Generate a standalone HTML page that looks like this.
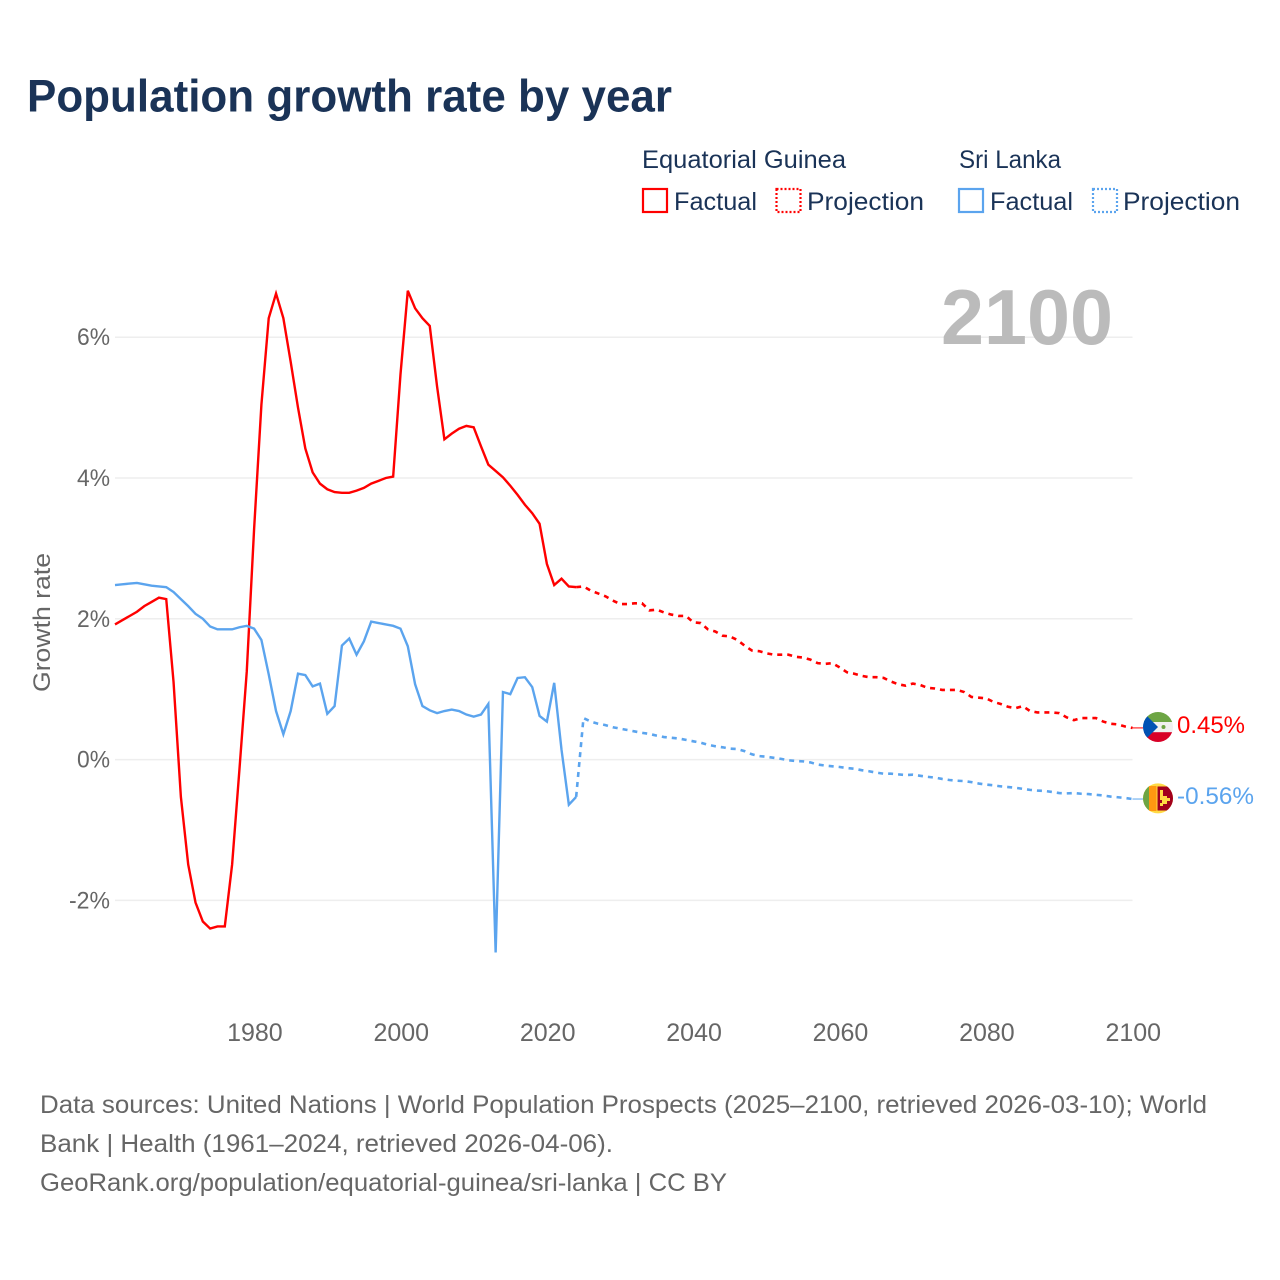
<!DOCTYPE html>
<html lang="en">
<head>
<meta charset="utf-8">
<title>Population growth rate by year</title>
<style>
html,body{margin:0;padding:0;background:#fff;width:1280px;height:1280px;overflow:hidden}
svg{display:block}
text{font-family:"Liberation Sans",sans-serif}
</style>
</head>
<body>
<svg id="chart" width="1280" height="1280" viewBox="0 0 1280 1280" xmlns="http://www.w3.org/2000/svg">
  <defs>
    <clipPath id="clip-gq"><circle cx="1158" cy="727" r="15"/></clipPath>
    <clipPath id="clip-lk"><circle cx="1158" cy="798.4" r="15"/></clipPath>
  </defs>
  <rect x="0" y="0" width="1280" height="1280" fill="#fff"/>
  <text x="27" y="111.5" font-size="45" font-weight="bold" fill="#1a3357" textLength="645" lengthAdjust="spacingAndGlyphs">Population growth rate by year</text>

  <g fill="#1a3357" font-size="25">
    <text x="642" y="168" textLength="204" lengthAdjust="spacingAndGlyphs">Equatorial Guinea</text>
    <text x="959" y="168" textLength="102" lengthAdjust="spacingAndGlyphs">Sri Lanka</text>
    <rect x="643" y="189" width="24" height="23" fill="none" stroke="#ff0000" stroke-width="2.2"/>
    <text x="674" y="210" textLength="83" lengthAdjust="spacingAndGlyphs">Factual</text>
    <rect x="776.5" y="189" width="24" height="23" fill="none" stroke="#ff0000" stroke-width="2.2" stroke-dasharray="2 2"/>
    <text x="807" y="210" textLength="117" lengthAdjust="spacingAndGlyphs">Projection</text>
    <rect x="959" y="189" width="24" height="23" fill="none" stroke="#5ba4ee" stroke-width="2.2"/>
    <text x="990" y="210" textLength="83" lengthAdjust="spacingAndGlyphs">Factual</text>
    <rect x="1093" y="189" width="24" height="23" fill="none" stroke="#5ba4ee" stroke-width="2.2" stroke-dasharray="2 2"/>
    <text x="1123" y="210" textLength="117" lengthAdjust="spacingAndGlyphs">Projection</text>
  </g>

  <g id="grid"></g>
  <g id="yticks"></g>
  <g id="xticks"></g>
  <text transform="translate(50,692) rotate(-90)" font-size="24" fill="#666" textLength="139" lengthAdjust="spacingAndGlyphs">Growth rate</text>
  <text x="941" y="344" font-size="78" font-weight="bold" fill="#bbbbbb" textLength="172" lengthAdjust="spacingAndGlyphs">2100</text>

  <g id="series"></g>

  <g clip-path="url(#clip-gq)">
    <rect x="1143" y="712" width="30" height="30" fill="#f0f0f0"/>
    <rect x="1143" y="712" width="30" height="10" fill="#6da544"/>
    <rect x="1143" y="732.2" width="30" height="10" fill="#d80027"/>
    <polygon points="1143,712 1158,727 1143,742" fill="#0052b4"/>
    <circle cx="1163.5" cy="727" r="2" fill="#6da544"/>
  </g>
  <g clip-path="url(#clip-lk)">
    <rect x="1143" y="783" width="30" height="31" fill="#ffda44"/>
    <rect x="1143" y="783" width="6" height="31" fill="#6da544"/>
    <rect x="1149" y="786" width="7.5" height="25" fill="#ff9811"/>
    <rect x="1157.5" y="786.5" width="16" height="24" fill="#a2001d"/>
    <path d="M1160 790h3v6h4v2h3v3h-3v3h-4v2h-3v-3h2v-3h-2z" fill="#ffda44"/>
  </g>
  <text id="label-gq" x="1177" y="733" font-size="24.5" fill="#ff0000" textLength="68" lengthAdjust="spacingAndGlyphs">0.45%</text>
  <text id="label-lk" x="1177" y="804" font-size="24.5" fill="#5ba4ee" textLength="77" lengthAdjust="spacingAndGlyphs">-0.56%</text>

  <g font-size="25" fill="#666">
    <text x="40" y="1113" textLength="1167" lengthAdjust="spacingAndGlyphs">Data sources: United Nations | World Population Prospects (2025–2100, retrieved 2026-03-10); World</text>
    <text x="40" y="1152" textLength="573" lengthAdjust="spacingAndGlyphs">Bank | Health (1961–2024, retrieved 2026-04-06).</text>
    <text x="40" y="1191" textLength="687" lengthAdjust="spacingAndGlyphs">GeoRank.org/population/equatorial-guinea/sri-lanka | CC BY</text>
  </g>
</svg>
<script>
const factualStartYear = 1961;
const projectionStartYear = 2024;
const xTickYears = [1980, 2000, 2020, 2040, 2060, 2080, 2100];
const yTickValues = [6, 4, 2, 0, -2];
const yTickLabels = ["6%", "4%", "2%", "0%", "-2%"];

const guineaFactual = [1.92,1.98,2.04,2.10,2.18,2.24,2.30,2.28,1.10,-0.53,-1.49,-2.03,-2.30,-2.40,-2.37,-2.37,-1.49,-0.14,1.25,3.27,5.04,6.27,6.62,6.27,5.65,5.00,4.42,4.08,3.92,3.84,3.80,3.79,3.79,3.82,3.86,3.92,3.96,4.00,4.02,5.47,6.66,6.41,6.27,6.16,5.30,4.55,4.63,4.70,4.74,4.72,4.45,4.19,4.10,4.01,3.89,3.76,3.62,3.50,3.35,2.78,2.48,2.57,2.46,2.45];
const guineaProjection = [2.45,2.46,2.40,2.36,2.32,2.26,2.21,2.21,2.22,2.22,2.12,2.13,2.09,2.06,2.04,2.04,1.95,1.94,1.85,1.82,1.76,1.75,1.70,1.62,1.55,1.54,1.51,1.49,1.49,1.49,1.46,1.45,1.42,1.37,1.36,1.37,1.31,1.24,1.22,1.19,1.17,1.17,1.16,1.11,1.07,1.05,1.08,1.06,1.02,1.01,0.99,0.99,0.99,0.96,0.89,0.88,0.87,0.82,0.79,0.75,0.73,0.76,0.69,0.67,0.67,0.67,0.66,0.60,0.56,0.59,0.59,0.59,0.54,0.51,0.50,0.47,0.45];
const lankaFactual = [2.48,2.49,2.50,2.51,2.49,2.47,2.46,2.45,2.38,2.28,2.18,2.07,2.00,1.89,1.85,1.85,1.85,1.88,1.90,1.86,1.70,1.21,0.69,0.36,0.69,1.22,1.20,1.04,1.08,0.65,0.76,1.62,1.72,1.49,1.68,1.96,1.94,1.92,1.90,1.86,1.61,1.07,0.76,0.70,0.66,0.69,0.71,0.69,0.64,0.61,0.64,0.79,-2.74,0.96,0.93,1.16,1.17,1.03,0.62,0.54,1.09,0.14,-0.64,-0.53];
const lankaProjection = [-0.53,0.59,0.54,0.51,0.49,0.46,0.44,0.42,0.40,0.38,0.365,0.34,0.32,0.31,0.30,0.28,0.26,0.24,0.21,0.19,0.175,0.155,0.15,0.12,0.075,0.05,0.04,0.025,0.01,-0.01,-0.02,-0.025,-0.04,-0.07,-0.085,-0.095,-0.105,-0.12,-0.13,-0.15,-0.165,-0.185,-0.2,-0.2,-0.21,-0.22,-0.215,-0.23,-0.245,-0.255,-0.275,-0.29,-0.30,-0.305,-0.32,-0.34,-0.355,-0.365,-0.38,-0.39,-0.40,-0.415,-0.43,-0.44,-0.445,-0.46,-0.475,-0.48,-0.475,-0.485,-0.49,-0.50,-0.51,-0.525,-0.535,-0.545,-0.56];

const SVG_NS = "http://www.w3.org/2000/svg";
const RED = "#ff0000";
const BLUE = "#5ba4ee";

function xScale(year) { return 115 + (year - 1961) * 7.32; }
function yScale(value) { return 759.6 - value * 70.4; }

function polyPoints(values, startYear) {
  return values.map(function (v, i) {
    return xScale(startYear + i).toFixed(2) + "," + yScale(v).toFixed(2);
  }).join(" ");
}

const gridGroup = document.getElementById("grid");
const yTickGroup = document.getElementById("yticks");
yTickValues.forEach(function (v, i) {
  const gridLine = document.createElementNS(SVG_NS, "line");
  
  
  gridLine.setAttribute("x1", xScale(1961));
  gridLine.setAttribute("x2", xScale(2100));
  gridLine.setAttribute("y1", yScale(v));
  gridLine.setAttribute("y2", yScale(v));
  gridLine.setAttribute("stroke", "#eeeeee");
  gridLine.setAttribute("stroke-width", "1.5");
  gridGroup.appendChild(gridLine);

  const tickText = document.createElementNS(SVG_NS, "text");
  
  
  tickText.setAttribute("x", 77 - (yTickLabels[i].length - 2) * 8);
  tickText.setAttribute("y", yScale(v) + 8);
  tickText.setAttribute("font-size", "24");
  tickText.setAttribute("fill", "#666");
  tickText.setAttribute("textLength", 33 + (yTickLabels[i].length - 2) * 8);
  tickText.setAttribute("lengthAdjust", "spacingAndGlyphs");
  tickText.textContent = yTickLabels[i];
  yTickGroup.appendChild(tickText);
});

const xTickGroup = document.getElementById("xticks");
xTickYears.forEach(function (year) {
  const tickText = document.createElementNS(SVG_NS, "text");
  
  
  tickText.setAttribute("x", xScale(year) + 0.8);
  tickText.setAttribute("y", 1041);
  tickText.setAttribute("text-anchor", "middle");
  tickText.setAttribute("font-size", "25");
  tickText.setAttribute("fill", "#666");
  tickText.textContent = String(year);
  xTickGroup.appendChild(tickText);
});

const seriesGroup = document.getElementById("series");

const guineaFactualLine = document.createElementNS(SVG_NS, "polyline");


guineaFactualLine.setAttribute("points", polyPoints(guineaFactual, factualStartYear));
guineaFactualLine.setAttribute("fill", "none");
guineaFactualLine.setAttribute("stroke", RED);
guineaFactualLine.setAttribute("stroke-width", "2.4");
seriesGroup.appendChild(guineaFactualLine);

const guineaProjectionLine = document.createElementNS(SVG_NS, "polyline");


guineaProjectionLine.setAttribute("points", polyPoints(guineaProjection, projectionStartYear));
guineaProjectionLine.setAttribute("fill", "none");
guineaProjectionLine.setAttribute("stroke", RED);
guineaProjectionLine.setAttribute("stroke-width", "2.6");
guineaProjectionLine.setAttribute("stroke-dasharray", "5 5");
seriesGroup.appendChild(guineaProjectionLine);

const lankaFactualLine = document.createElementNS(SVG_NS, "polyline");


lankaFactualLine.setAttribute("points", polyPoints(lankaFactual, factualStartYear));
lankaFactualLine.setAttribute("fill", "none");
lankaFactualLine.setAttribute("stroke", BLUE);
lankaFactualLine.setAttribute("stroke-width", "2.4");
seriesGroup.appendChild(lankaFactualLine);

const lankaProjectionLine = document.createElementNS(SVG_NS, "polyline");


lankaProjectionLine.setAttribute("points", polyPoints(lankaProjection, projectionStartYear));
lankaProjectionLine.setAttribute("fill", "none");
lankaProjectionLine.setAttribute("stroke", BLUE);
lankaProjectionLine.setAttribute("stroke-width", "2.6");
lankaProjectionLine.setAttribute("stroke-dasharray", "5 5");
seriesGroup.appendChild(lankaProjectionLine);

const guineaConnector = document.createElementNS(SVG_NS, "line");


guineaConnector.setAttribute("x1", xScale(2100));
guineaConnector.setAttribute("x2", 1144);
guineaConnector.setAttribute("y1", yScale(guineaProjection[guineaProjection.length - 1]));
guineaConnector.setAttribute("y2", yScale(guineaProjection[guineaProjection.length - 1]));
guineaConnector.setAttribute("stroke", RED);
guineaConnector.setAttribute("stroke-width", "1");
seriesGroup.appendChild(guineaConnector);

const lankaConnector = document.createElementNS(SVG_NS, "line");


lankaConnector.setAttribute("x1", xScale(2100));
lankaConnector.setAttribute("x2", 1144);
lankaConnector.setAttribute("y1", yScale(lankaProjection[lankaProjection.length - 1]));
lankaConnector.setAttribute("y2", yScale(lankaProjection[lankaProjection.length - 1]));
lankaConnector.setAttribute("stroke", BLUE);
lankaConnector.setAttribute("stroke-width", "1");
seriesGroup.appendChild(lankaConnector);
</script>
</body>
</html>
